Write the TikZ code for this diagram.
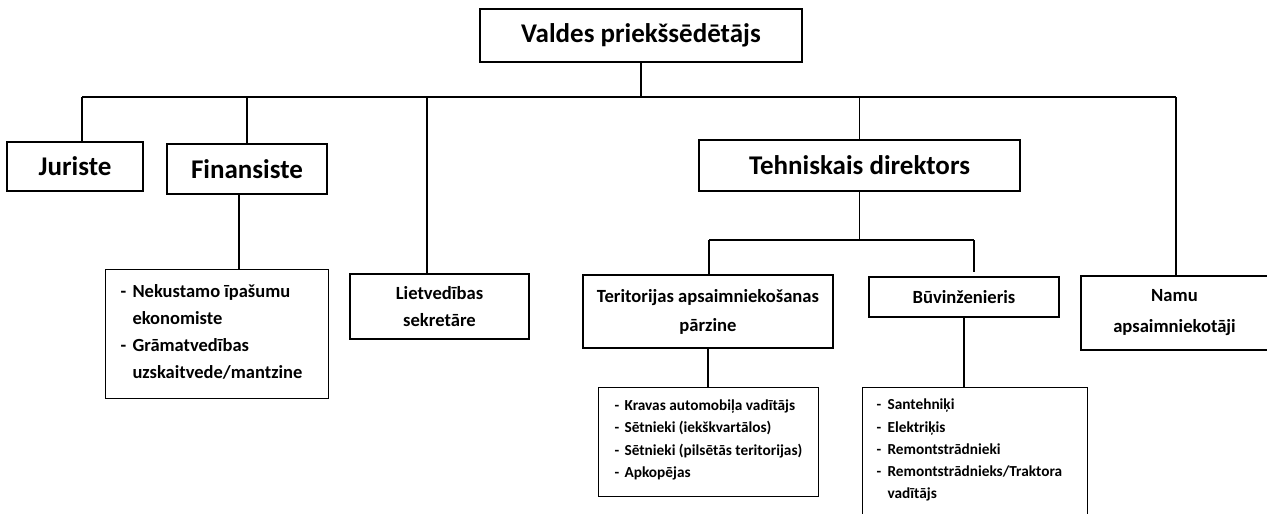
\documentclass[tikz,border=0pt]{standalone}
\usepackage{fontspec}
\setmainfont{Carlito}
\usetikzlibrary{calc}
\newcommand\hdfont{\fontsize{27}{30}\selectfont\bfseries}
\newcommand\mdfont[1]{\fontsize{18.6}{#1}\selectfont\bfseries}
\newcommand\lbox[5]{\parbox[t][#2][t]{#1}{\vspace*{#4}\hspace*{#3}#5}}
\begin{document}
\begin{tikzpicture}[x=1pt,y=-1pt,
  box/.style={draw, line width=1.2pt, inner sep=0pt, align=center},
  conn/.style={line width=1.2pt}]
\useasboundingbox (0,0) rectangle (1267,514);
\fill[white] (0,0) rectangle (1267,514);
% top level
\node[box, minimum width=322pt, minimum height=53pt, font=\hdfont] (top) at (641,35.5) {Valdes priekšsēdētājs};
\node[box, minimum width=136pt, minimum height=49pt, font=\hdfont] (jur) at (75,166.5) {Juriste};
\node[box, minimum width=160pt, minimum height=50pt, font=\hdfont] (fin) at (247,169) {Finansiste};
\node[box, minimum width=321pt, minimum height=51pt, font=\hdfont] (tehn) at (859.5,165.5) {Tehniskais direktors};
% mid level
\node[box, minimum width=179pt, minimum height=65pt, font={\mdfont{27}}] (lietv) at (439.5,306.5) {Lietvedības\\sekretāre};
\node[box, minimum width=250pt, minimum height=73pt, font={\mdfont{29}}] (ter) at (708,311.5) {Teritorijas apsaimniekošanas\\pārzine};
\node[box, minimum width=190pt, minimum height=40pt, font={\mdfont{27}}] (buv) at (964,297) {Būvinženieris};
\node[box, minimum width=187pt, minimum height=74pt, font={\mdfont{31}}] (namu) at (1174.5,313) {Namu\\apsaimniekotāji};
% list boxes
\node[box, anchor=north west] (finsub) at (105,269) {\lbox{223pt}{129pt}{15pt}{8.6pt}{\fontsize{18.5}{27}\selectfont\bfseries\begin{tabular}{@{}l@{\hspace{6.3pt}}l@{}}-&Nekustamo īpašumu\\&ekonomiste\\-&Grāmatvedības\\&uzskaitvede/mantzine\end{tabular}}};
\node[box, anchor=north west] (itemsL) at (598,387) {\lbox{220pt}{109pt}{16pt}{6.75pt}{\fontsize{15.3}{22.5}\selectfont\bfseries\begin{tabular}{@{}l@{\hspace{5.3pt}}l@{}}-&Kravas automobiļa vadītājs\\-&Sētnieki (iekškvartālos)\\-&Sētnieki (pilsētās teritorijas)\\-&Apkopējas\end{tabular}}};
\node[box, anchor=north west] (itemsR) at (862,387) {\lbox{225pt}{129pt}{14pt}{6.75pt}{\fontsize{15.3}{22.2}\selectfont\bfseries\begin{tabular}{@{}l@{\hspace{6.3pt}}l@{}}-&Santehniķi\\-&Elektriķis\\-&Remontstrādnieki\\-&Remontstrādnieks/Traktora\\&vadītājs\end{tabular}}};
% connectors
\coordinate (busL) at (82,97);
\coordinate (busR) at (1176,97);
\coordinate (lvx) at (427,97);
\coordinate (sbL) at (709,240);
\coordinate (sbR) at (974,240);
\draw[conn] (busL) -- (busR);
\draw[conn] (top.south) -- (top.south |- busL);
\draw[conn] (busL) -- (busL |- jur.north);
\draw[conn] (fin.north |- busL) -- (fin.north);
\draw[conn] (lvx) -- (lvx |- lietv.north);
\draw[conn] (tehn.north |- busL) -- (tehn.north);
\draw[conn] (busR) -- (busR |- namu.north);
\draw[conn] ([xshift=-8pt]fin.south) -- ([xshift=-8pt]fin.south |- finsub.north);
\draw[conn] (tehn.south) -- (tehn.south |- sbL);
\draw[conn] (sbL) -- (sbR);
\draw[conn] (sbL) -- (sbL |- ter.north);
\draw[conn] (sbR) -- ([yshift=4pt]sbR |- buv.north);
\draw[conn] (ter.south) -- (ter.south |- itemsL.north);
\draw[conn] (buv.south) -- (buv.south |- itemsR.north);
\end{tikzpicture}
\end{document}
